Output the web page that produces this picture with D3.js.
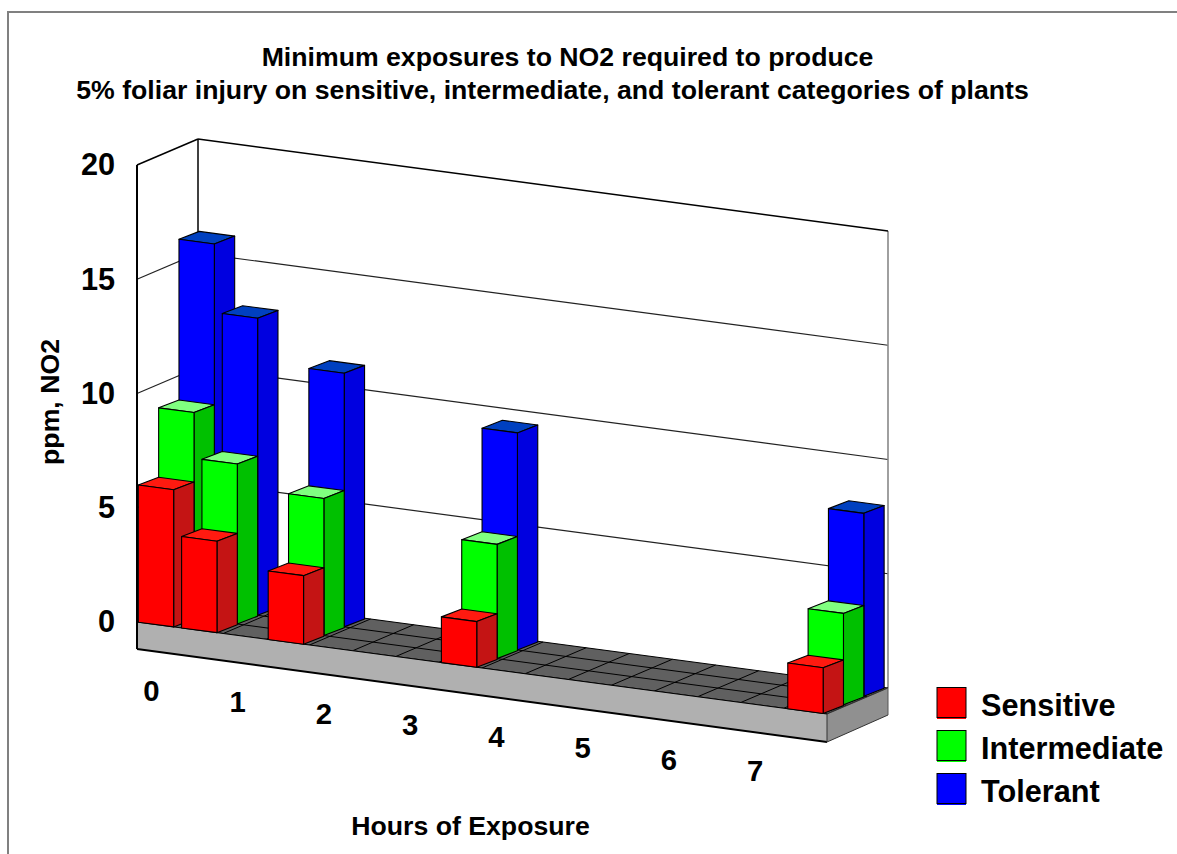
<!DOCTYPE html>
<html>
<head>
<meta charset="utf-8">
<title>Minimum exposures to NO2</title>
<script src="https://cdn.jsdelivr.net/npm/d3@7"></script>
<style>
    html, body { margin: 0; padding: 0; background: #fff; }
    svg { display: block; }
    text { font-family: "Liberation Sans", Arial, sans-serif; font-weight: bold; fill: #000; }
</style>
</head>
<body>
<script>
//chart data
var titleLines = ["Minimum exposures to NO2 required to produce",
                  "5% foliar injury on sensitive, intermediate, and tolerant categories of plants"];
var exposureHours = [0.5, 1, 2, 4, 8];
var seriesNames = ["Sensitive", "Intermediate", "Tolerant"];
var sensitive = [6, 4, 3, 2, 2];
var intermediate = [9, 7, 6, 5, 4];
var tolerant = [16, 13, 11.1, 9.5, 8];
var yTicks = [0, 5, 10, 15, 20];
var xTickLabels = [0, 1, 2, 3, 4, 5, 6, 7];

//change to local scope
(function(){

    var width = 1177,
        height = 854;

    //floor corners: along the front edge and going back into the page
    var originX = 137,
        originY = 622,
        alongX = 690,
        alongY = 92,
        backX = 61,
        backY = -26,
        plateHeight = 27;

    var xScale = d3.scaleLinear().domain([0, 8]).range([0, 1]); //hours to share of floor length
    var yScale = d3.scaleLinear().domain([0, 20]).range([0, 457]); //ppm to pixels of height
    var barHours = 0.41; //bar width in hours
    var barBackLift = 0.8; //bar tops are a bit flatter than the floor rows

    var faceColors = [
        {front: "#ff0000", side: "#c41414", top: "#ff1a10"},
        {front: "#00ff00", side: "#00c000", top: "#80ff80"},
        {front: "#0000ff", side: "#0000e0", top: "#0040c0"}
    ];

    var svg = d3.select("body")
        .append("svg")
        .attr("width", width)
        .attr("height", height);

    //u along the floor, d into the page, v in ppm
    function project(u, d, v){
        return [originX + alongX * u + backX * d,
                originY + alongY * u + backY * d - yScale(v || 0)];
    };

    var line = d3.line();
    function poly(points){
        return line(points) + "Z";
    };

    function addLine(a, b, color, w){
        svg.append("line")
            .attr("x1", a[0]).attr("y1", a[1])
            .attr("x2", b[0]).attr("y2", b[1])
            .attr("stroke", color)
            .attr("stroke-width", w);
    };

    function addPoly(points, fill, stroke, w){
        svg.append("path")
            .attr("d", poly(points))
            .attr("fill", fill)
            .attr("stroke", stroke)
            .attr("stroke-width", w)
            .attr("stroke-linejoin", "round");
    };

    //outer frame, only top and left are visible
    addLine([8, 12], [width, 12], "#808080", 2);
    addLine([8, 11], [8, height], "#808080", 2);

    //gridlines on both walls
    yTicks.slice(1, -1).forEach(function(t){
        addLine(project(0, 0, t), project(0, 1, t), "#222", 1.2);
        addLine(project(0, 1, t), project(1, 1, t), "#222", 1.2);
    });

    //wall outlines
    addLine(project(1, 1, 0), project(1, 1, 20), "#888", 1.6);
    addLine(project(0, 1, 0), project(0, 1, 20), "#000", 1.5);
    addLine(project(0, 1, 20), project(1, 1, 20), "#000", 1.5);
    addLine(project(0, 0, 20), project(0, 1, 20), "#000", 1.5);

    //floor
    addPoly([project(0, 0), project(1, 0), project(1, 1), project(0, 1)], "#606060", "#000", 1);
    d3.range(0.5, 8, 0.5).forEach(function(h){
        addLine(project(xScale(h), 0), project(xScale(h), 1), "#000", 1);
    });
    [1 / 3, 2 / 3].forEach(function(d){
        addLine(project(0, d), project(1, d), "#000", 1);
    });

    //platform under the floor
    var fl = project(0, 0), fr = project(1, 0), br = project(1, 1);
    addPoly([fl, fr, [fr[0], fr[1] + plateHeight + 1], [fl[0], fl[1] + plateHeight]], "#b0b0b0", "none", 0);
    addPoly([fr, br, [br[0], br[1] + plateHeight], [fr[0], fr[1] + plateHeight + 1]], "#909090", "none", 0);
    addLine(fl, fr, "#000", 1);
    addLine(fr, br, "#333", 1);
    addLine([fl[0], fl[1] + plateHeight], [fr[0], fr[1] + plateHeight + 1], "#000", 2);
    addLine([fr[0], fr[1] + plateHeight + 1], [br[0], br[1] + plateHeight], "#333", 1);
    addLine(fr, [fr[0], fr[1] + plateHeight + 1], "#333", 1);
    addLine(br, [br[0], br[1] + plateHeight], "#555", 1);
    addLine(project(0, 0, 20), [fl[0], fl[1] + plateHeight], "#000", 2);

    //bars: rear row first so the front rows paint over it
    function drawBar(hour, row, value, colors){
        var u0 = xScale(hour - 0.5) + 0.0019 + (hour - 0.5) * 0.0005,
            u1 = u0 + xScale(barHours),
            d0 = row / 3,
            d1 = (row + 1) / 3;

        function backCorner(u, v){
            var p = project(u, d1, v);
            return [p[0], p[1] + barBackLift];
        };

        //top, side, then front
        addPoly([project(u0, d0, value), project(u1, d0, value), backCorner(u1, value), backCorner(u0, value)],
            colors.top, "#000", 1.1);
        addPoly([project(u1, d0, 0), backCorner(u1, 0), backCorner(u1, value), project(u1, d0, value)],
            colors.side, "#000", 1.1);
        addPoly([project(u0, d0, 0), project(u1, d0, 0), project(u1, d0, value), project(u0, d0, value)],
            colors.front, "#000", 1.1);
    };

    [tolerant, intermediate, sensitive].forEach(function(values, i){
        var row = 2 - i;
        exposureHours.forEach(function(hour, j){
            drawBar(hour, row, values[j], faceColors[row]);
        });
    });

    //y axis labels
    var yAxisScale = d3.scaleLinear().domain([0, 20]).range([originY, originY - yScale(20)]);
    var yAxis = d3.axisLeft(yAxisScale)
        .tickValues(yTicks)
        .tickSize(0)
        .tickPadding(0)
        .tickFormat(d3.format("d"));
    var yAxisGroup = svg.append("g")
        .attr("transform", "translate(115,0)")
        .call(yAxis);
    yAxisGroup.select(".domain").remove();
    yAxisGroup.selectAll("text")
        .attr("font-size", 30.67)
        .attr("font-family", null);

    //hour labels follow the slope of the platform
    svg.selectAll(".hourLabel")
        .data(xTickLabels)
        .enter()
        .append("text")
        .attr("class", "hourLabel")
        .attr("text-anchor", "middle")
        .attr("font-size", 29.33)
        .attr("x", function(d){ return project(xScale(d), 0)[0] + 14.5; })
        .attr("y", function(d){ return project(xScale(d), 0)[1] + 78.5; })
        .text(function(d){ return d; });

    //titles, the two lines do not share a centre in the original
    var titleCentres = [567.5, 552.5];
    svg.selectAll(".title")
        .data(titleLines)
        .enter()
        .append("text")
        .attr("class", "title")
        .attr("text-anchor", "middle")
        .attr("font-size", 26.67)
        .attr("x", function(d, i){ return titleCentres[i]; })
        .attr("y", function(d, i){ return 66 + i * 33; })
        .text(function(d){ return d; });

    svg.append("text")
        .attr("text-anchor", "middle")
        .attr("font-size", 26.67)
        .attr("x", 470.5)
        .attr("y", 835)
        .text("Hours of Exposure");

    svg.append("text")
        .attr("text-anchor", "middle")
        .attr("font-size", 26.67)
        .attr("transform", "translate(59,402) rotate(-90)")
        .text("ppm, NO2");

    //legend
    var legend = svg.selectAll(".legendItem")
        .data(seriesNames)
        .enter()
        .append("g")
        .attr("class", "legendItem")
        .attr("transform", function(d, i){ return "translate(937," + (687.5 + i * 43) + ")"; });
    legend.append("rect")
        .attr("y", 30)
        .attr("width", 29)
        .attr("height", 1.5)
        .attr("fill", function(d, i){ return faceColors[i].front; });
    legend.append("rect")
        .attr("width", 29)
        .attr("height", 30)
        .attr("fill", function(d, i){ return faceColors[i].front; })
        .attr("stroke", "#000")
        .attr("stroke-width", 1);
    legend.append("text")
        .attr("font-size", 30.67)
        .attr("x", 44)
        .attr("y", 28.5)
        .text(function(d){ return d; });

})();
</script>
</body>
</html>
